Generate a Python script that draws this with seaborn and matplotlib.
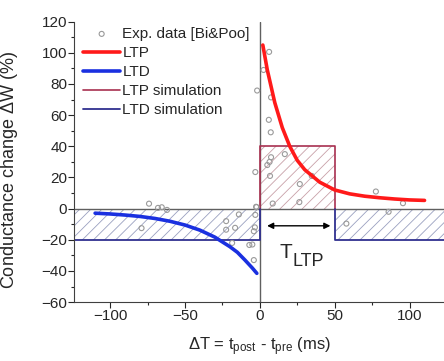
import numpy as np
import pandas as pd
import seaborn as sns
import matplotlib.pyplot as plt
from matplotlib.ticker import MultipleLocator

exp_dt = [6.2, 2.5, -1.8, 7.5, 6, 7.3, 16.7, 7.5, 6.5, 5, -3, 6.8, 34.7, 26.7, 8.6, 26.4,
          -2.5, 77.5, 95.6, 86, 57.8,
          -74, -68, -65.5, -62, -79, -14, -22.5, -16.5, -22.5, -3, -3.3, -4, -18.5,
          -7, -5, -4, -2.2]
exp_dw = [100.6, 89, 75.8, 71.4, 57, 49, 35, 33, 30, 28, 23.5, 21, 21, 15.8, 3.3, 4.2,
          1.2, 11, 3.5, -2, -9.6,
          3.2, 0.5, 0.9, -0.8, -12.5, -3.7, -8, -12.3, -13.5, -4, -12, -14.5, -22,
          -23.3, -23, -33, 1]

# fitted curves
ltp_x = [2, 5, 10, 15, 20, 25, 30, 40, 50, 60, 70, 80, 90, 100, 110]
ltp_y = [105, 89, 68, 52, 40, 31, 25, 17, 12, 9.5, 8, 7, 6.2, 5.6, 5.3]
ltd_x = [-110, -100, -90, -80, -70, -60, -50, -40, -30, -20, -15, -10, -5, -2]
ltd_y = [-2.9, -3.4, -4.1, -5, -6.3, -8.1, -10.5, -13.8, -18.3, -24.4, -28, -32.9, -38.1, -41.5]

# simulated windows
ltp_sim_x = [0, 0, 50, 50]
ltp_sim_y = [0, 40, 40, 0]
ltd_sim_left_x = [-130, 0, 0]
ltd_sim_left_y = [-20, -20, 0]
ltd_sim_right_x = [50, 50, 130]
ltd_sim_right_y = [0, -20, -20]

sns.set_style("ticks")
plt.rcParams['font.family'] = ['Liberation Sans', 'DejaVu Sans']
plt.rcParams['mathtext.fontset'] = 'custom'
plt.rcParams['mathtext.rm'] = 'Liberation Sans'
plt.rcParams['mathtext.it'] = 'Liberation Sans'
plt.rcParams['hatch.linewidth'] = 0.6

fig = plt.figure(figsize=(4.44, 3.61), dpi=100)
ax = fig.add_axes([0.167, 0.163, 0.833, 0.777])

ltp_col = '#a83050'
ltd_col = '#303090'

# hatched simulation regions
ax.fill_between([0, 50], 0, 40, facecolor='none', edgecolor='#c8a0a8', hatch='///', linewidth=0)
ax.fill_between([-130, 0], -20, 0, facecolor='none', edgecolor='#9aa0c0', hatch='///', linewidth=0)
ax.fill_between([50, 130], -20, 0, facecolor='none', edgecolor='#9aa0c0', hatch='///', linewidth=0)

ax.axhline(0, color='#606060', lw=1)
ax.axvline(0, color='#606060', lw=1)

sns.scatterplot(x=exp_dt, y=exp_dw, ax=ax, marker='o', s=13, facecolor='none',
                edgecolor='#9a9a9a', linewidth=0.8, label='Exp. data [Bi&Poo]', zorder=3)
sns.lineplot(x=ltp_x, y=ltp_y, ax=ax, color='#ff1a1a', lw=2.6, label='LTP', sort=False, zorder=4)
sns.lineplot(x=ltd_x, y=ltd_y, ax=ax, color='#1a30e0', lw=2.6, label='LTD', sort=False, zorder=4)
ax.plot(ltp_sim_x, ltp_sim_y, color=ltp_col, lw=1.2, label='LTP simulation')
ax.plot(ltd_sim_left_x, ltd_sim_left_y, color=ltd_col, lw=1.3, label='LTD simulation')
ax.plot(ltd_sim_right_x, ltd_sim_right_y, color=ltd_col, lw=1.3)

ax.annotate('', xy=(3, -11), xytext=(49, -11),
            arrowprops=dict(arrowstyle='<|-|>', color='black', lw=1, mutation_scale=9))
ax.text(13.3, -31.7, 'T', fontsize=15, va='baseline')
ax.text(22, -36.9, 'LTP', fontsize=13, va='baseline')

ax.set_xlim(-124, 123)
ax.set_ylim(-60, 120)
ax.xaxis.set_major_locator(MultipleLocator(50))
ax.xaxis.set_minor_locator(MultipleLocator(25))
ax.yaxis.set_major_locator(MultipleLocator(20))
ax.yaxis.set_minor_locator(MultipleLocator(10))
ax.tick_params(which='major', direction='out', length=4, width=0.8, labelsize=11, pad=1)
ax.tick_params(which='minor', direction='out', length=2, width=0.8)
sns.despine(ax=ax)
for s in ['left', 'bottom']:
    ax.spines[s].set_color('#404040')

ax.set_xlabel(r'$\Delta$T = t$_{\mathregular{post}}$ - t$_{\mathregular{pre}}$ (ms)', fontsize=12, labelpad=9)
ax.set_ylabel(r'Conductance change $\Delta$W (%)', fontsize=13)
ax.yaxis.set_label_coords(-0.146, 0.47)

ax.legend(loc='upper left', bbox_to_anchor=(0.0, 1.014), frameon=False, fontsize=11,
          handlelength=2.4, handletextpad=0.15, labelspacing=0.33, borderaxespad=0.2)

fig.savefig('out.png', dpi=100)
